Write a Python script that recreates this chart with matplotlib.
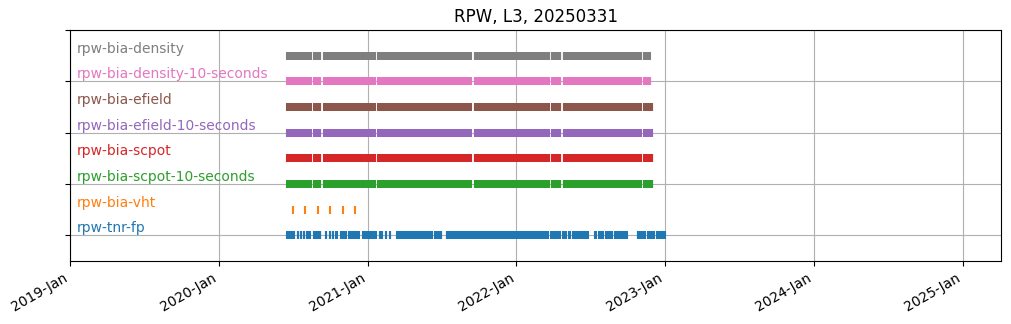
import matplotlib
matplotlib.use("Agg")
import matplotlib.pyplot as plt
import matplotlib.dates as mdates
import pandas as pd

title = "RPW, L3, 20250331"

# Products, bottom row first
products = [
    "rpw-tnr-fp",
    "rpw-bia-vht",
    "rpw-bia-scpot-10-seconds",
    "rpw-bia-scpot",
    "rpw-bia-efield-10-seconds",
    "rpw-bia-efield",
    "rpw-bia-density-10-seconds",
    "rpw-bia-density",
]
colors = ["C0", "C1", "C2", "C3", "C4", "C5", "C6", "C7"]

# Daily-file coverage as (first day, last day) intervals
bia_common = [
    ("2020-06-18", "2020-08-14"),
    ("2020-08-23", "2020-09-07"),
    ("2020-09-16", "2021-01-18"),
    ("2021-01-27", "2021-09-11"),
    ("2021-09-21", "2022-03-22"),
    ("2022-03-30", "2022-04-19"),
    ("2022-04-28", "2022-11-02"),
]
density_tail = [("2022-11-11", "2022-11-24")]
density_10s_tail = [("2022-11-11", "2022-11-25")]
efield_tail = [("2022-11-11", "2022-11-30")]

# Monthly files
vht_dates = ["2020-07-01", "2020-08-01", "2020-09-01",
             "2020-10-01", "2020-11-01", "2020-12-01"]

tnr_fp = [
    ("2020-06-18", "2020-07-04"),
    ("2020-07-13", "2020-07-14"), ("2020-07-20", "2020-07-21"),
    ("2020-07-28", "2020-07-29"), ("2020-08-04", "2020-08-05"),
    ("2020-08-11", "2020-08-12"),
    ("2020-08-22", "2020-09-07"),
    ("2020-09-20", "2020-09-21"),
    ("2020-09-30", "2020-10-01"), ("2020-10-07", "2020-10-08"),
    ("2020-10-16", "2020-10-17"),
    ("2020-10-27", "2020-11-08"),
    ("2020-11-16", "2020-12-10"),
    ("2020-12-21", "2021-01-21"),
    ("2021-01-30", "2021-01-31"), ("2021-02-05", "2021-02-06"),
    ("2021-02-14", "2021-02-15"), ("2021-02-24", "2021-02-25"),
    ("2021-03-15", "2021-04-10"),
    ("2021-04-14", "2021-05-13"),
    ("2021-05-17", "2021-05-18"), ("2021-05-25", "2021-05-26"),
    ("2021-06-01", "2021-06-02"), ("2021-06-08", "2021-06-09"),
    ("2021-06-16", "2021-06-17"), ("2021-06-23", "2021-06-24"),
    ("2021-06-30", "2021-07-01"),
    ("2021-07-14", "2021-08-05"),
    ("2021-08-08", "2021-08-25"),
    ("2021-08-28", "2021-09-13"),
    ("2021-09-20", "2021-10-10"),
    ("2021-10-13", "2021-10-30"),
    ("2021-11-02", "2021-11-21"),
    ("2021-11-26", "2021-12-20"),
    ("2021-12-23", "2022-01-20"),
    ("2022-01-23", "2022-02-20"),
    ("2022-02-23", "2022-03-19"),
    ("2022-03-28", "2022-04-17"),
    ("2022-04-26", "2022-04-27"), ("2022-05-03", "2022-05-04"),
    ("2022-05-11", "2022-05-12"), ("2022-05-19", "2022-05-20"),
    ("2022-05-26", "2022-05-27"), ("2022-06-02", "2022-06-03"),
    ("2022-06-09", "2022-06-10"), ("2022-06-17", "2022-06-18"),
    ("2022-06-24", "2022-06-25"),
    ("2022-07-14", "2022-07-15"), ("2022-07-24", "2022-07-25"),
    ("2022-07-31", "2022-08-01"), ("2022-08-08", "2022-08-09"),
    ("2022-08-15", "2022-08-16"), ("2022-08-22", "2022-08-23"),
    ("2022-08-30", "2022-08-31"), ("2022-09-06", "2022-09-07"),
    ("2022-09-13", "2022-09-14"), ("2022-09-21", "2022-09-22"),
    ("2022-09-28", "2022-09-29"),
    ("2022-10-26", "2022-11-12"),
    ("2022-11-20", "2022-12-04"),
    ("2022-12-12", "2022-12-31"),
]

coverage = {
    "rpw-tnr-fp": tnr_fp,
    "rpw-bia-scpot-10-seconds": bia_common + efield_tail,
    "rpw-bia-scpot": bia_common + efield_tail,
    "rpw-bia-efield-10-seconds": bia_common + efield_tail,
    "rpw-bia-efield": bia_common + efield_tail,
    "rpw-bia-density-10-seconds": bia_common + density_10s_tail,
    "rpw-bia-density": bia_common + density_tail,
}

x_start = "2019-01-01"
x_end = "2025-04-05"


def expand(intervals):
    days = [pd.date_range(a, b, freq="D") for a, b in intervals]
    return days[0].append(days[1:]) if len(days) > 1 else days[0]


fig = plt.figure(figsize=(10.11, 3.24), dpi=100)
ax = fig.add_axes([70 / 1011, 63 / 324, 931 / 1011, 231 / 324])

for row, (name, color) in enumerate(zip(products, colors)):
    if name == "rpw-bia-vht":
        dates = pd.to_datetime(vht_dates)
    else:
        dates = expand(coverage[name])
    ax.plot(dates, [row] * len(dates), "|", color=color,
            markersize=6, markeredgewidth=1.5)
    ax.text(0.0075, row, name, color=color, fontsize=10,
            va="bottom", ha="left",
            transform=ax.get_yaxis_transform())

ax.set_xlim(pd.Timestamp(x_start), pd.Timestamp(x_end))
ax.set_ylim(-1, 8)
ax.set_yticks([0, 2, 4, 6, 8])
ax.set_yticklabels([])
ax.xaxis.set_major_locator(mdates.YearLocator())
ax.xaxis.set_major_formatter(mdates.DateFormatter("%Y-%b"))
for lbl in ax.get_xticklabels():
    lbl.set_rotation(30)
    lbl.set_ha("right")
ax.grid(True)
ax.set_title(title)

fig.savefig("out.png", dpi=100)
